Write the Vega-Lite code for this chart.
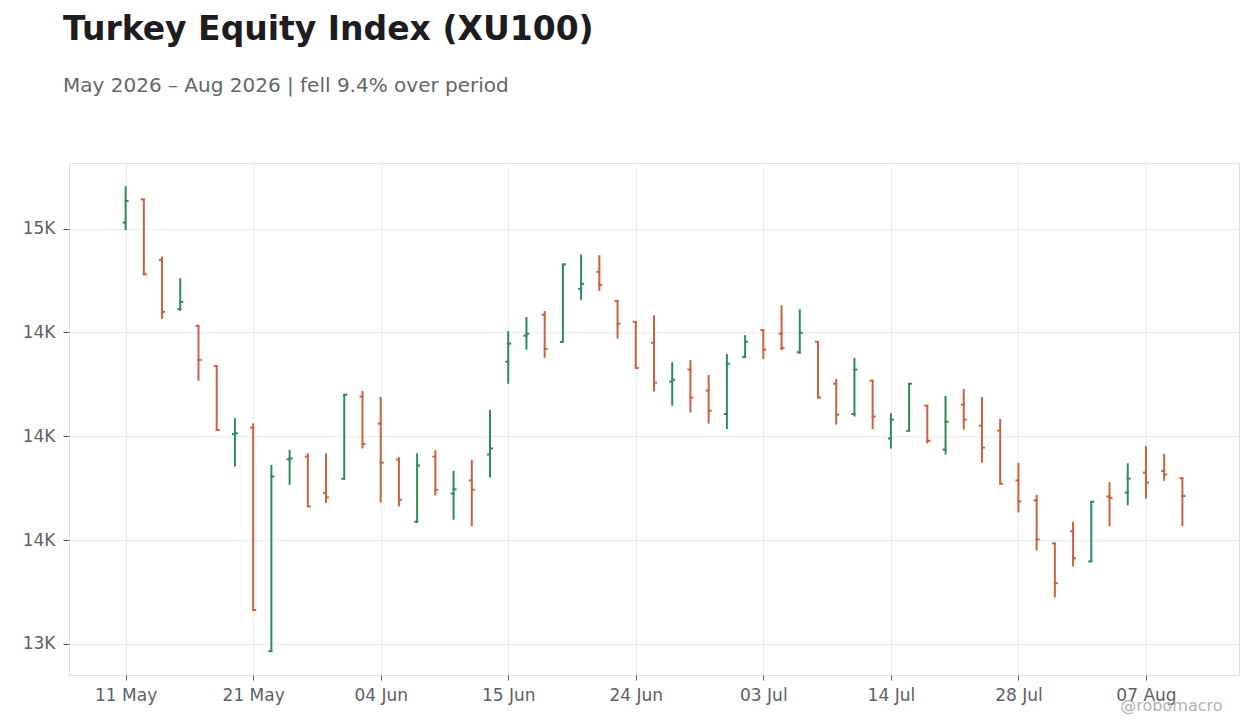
{
  "$schema": "https://vega.github.io/schema/vega-lite/v6.json",
  "autosize": {"type": "none"},
  "width": 1170,
  "height": 512,
  "padding": {"left": 69, "top": 163, "right": 21, "bottom": 53},
  "background": "white",
  "title": {
    "text": "Turkey Equity Index (XU100)",
    "subtitle": "May 2026 – Aug 2026 | fell 9.4% over period",
    "anchor": "start",
    "frame": "group",
    "dx": -6,
    "offset": 67,
    "fontSize": 33,
    "fontWeight": "bold",
    "color": "#1c1c21",
    "subtitleFontSize": 20,
    "subtitleColor": "#62666e",
    "subtitlePadding": 29
  },
  "config": {
    "font": "DejaVu Sans",
    "view": {"stroke": "#dddddd", "strokeWidth": 1},
    "axis": {
      "labelFontSize": 17,
      "labelColor": "#5c606a",
      "tickColor": "#555a63",
      "domain": false,
      "grid": true,
      "gridColor": "#ebebeb",
      "gridWidth": 1
    }
  },
  "data": {
    "values": [
      {"date": "2026-05-11", "open": 15029, "high": 15204, "low": 14992, "close": 15133},
      {"date": "2026-05-12", "open": 15141, "high": 15144, "low": 14778, "close": 14780},
      {"date": "2026-05-13", "open": 14849, "high": 14865, "low": 14566, "close": 14599},
      {"date": "2026-05-14", "open": 14612, "high": 14761, "low": 14604, "close": 14647},
      {"date": "2026-05-15", "open": 14532, "high": 14535, "low": 14268, "close": 14367},
      {"date": "2026-05-18", "open": 14338, "high": 14341, "low": 14027, "close": 14030},
      {"date": "2026-05-20", "open": 14010, "high": 14087, "low": 13854, "close": 14014},
      {"date": "2026-05-21", "open": 14042, "high": 14062, "low": 13160, "close": 13163},
      {"date": "2026-05-22", "open": 12965, "high": 13862, "low": 12962, "close": 13806},
      {"date": "2026-05-25", "open": 13889, "high": 13934, "low": 13766, "close": 13893},
      {"date": "2026-05-26", "open": 13902, "high": 13918, "low": 13659, "close": 13662},
      {"date": "2026-06-01", "open": 13726, "high": 13918, "low": 13678, "close": 13705},
      {"date": "2026-06-02", "open": 13795, "high": 14202, "low": 13793, "close": 14200},
      {"date": "2026-06-03", "open": 14191, "high": 14218, "low": 13941, "close": 13963},
      {"date": "2026-06-04", "open": 14061, "high": 14189, "low": 13681, "close": 13873},
      {"date": "2026-06-05", "open": 13888, "high": 13899, "low": 13662, "close": 13694},
      {"date": "2026-06-08", "open": 13588, "high": 13918, "low": 13582, "close": 13859},
      {"date": "2026-06-09", "open": 13902, "high": 13933, "low": 13715, "close": 13742},
      {"date": "2026-06-10", "open": 13724, "high": 13833, "low": 13598, "close": 13744},
      {"date": "2026-06-11", "open": 13787, "high": 13886, "low": 13566, "close": 13742},
      {"date": "2026-06-12", "open": 13912, "high": 14127, "low": 13801, "close": 13941},
      {"date": "2026-06-15", "open": 14359, "high": 14506, "low": 14253, "close": 14446},
      {"date": "2026-06-16", "open": 14484, "high": 14574, "low": 14417, "close": 14494},
      {"date": "2026-06-17", "open": 14585, "high": 14603, "low": 14378, "close": 14421},
      {"date": "2026-06-18", "open": 14454, "high": 14830, "low": 14452, "close": 14828},
      {"date": "2026-06-19", "open": 14710, "high": 14875, "low": 14657, "close": 14734},
      {"date": "2026-06-22", "open": 14792, "high": 14872, "low": 14700, "close": 14728},
      {"date": "2026-06-23", "open": 14652, "high": 14654, "low": 14470, "close": 14542},
      {"date": "2026-06-24", "open": 14551, "high": 14553, "low": 14327, "close": 14329},
      {"date": "2026-06-25", "open": 14450, "high": 14583, "low": 14215, "close": 14258},
      {"date": "2026-06-26", "open": 14263, "high": 14357, "low": 14147, "close": 14272},
      {"date": "2026-06-29", "open": 14321, "high": 14367, "low": 14114, "close": 14186},
      {"date": "2026-06-30", "open": 14220, "high": 14295, "low": 14061, "close": 14123},
      {"date": "2026-07-01", "open": 14107, "high": 14396, "low": 14034, "close": 14349},
      {"date": "2026-07-02", "open": 14381, "high": 14487, "low": 14378, "close": 14455},
      {"date": "2026-07-03", "open": 14511, "high": 14514, "low": 14372, "close": 14417},
      {"date": "2026-07-06", "open": 14494, "high": 14631, "low": 14415, "close": 14425},
      {"date": "2026-07-07", "open": 14405, "high": 14612, "low": 14397, "close": 14498},
      {"date": "2026-07-08", "open": 14455, "high": 14457, "low": 14181, "close": 14187},
      {"date": "2026-07-09", "open": 14253, "high": 14276, "low": 14056, "close": 14104},
      {"date": "2026-07-10", "open": 14107, "high": 14377, "low": 14095, "close": 14321},
      {"date": "2026-07-13", "open": 14268, "high": 14269, "low": 14034, "close": 14095},
      {"date": "2026-07-14", "open": 13989, "high": 14111, "low": 13941, "close": 14080},
      {"date": "2026-07-16", "open": 14026, "high": 14255, "low": 14022, "close": 14253},
      {"date": "2026-07-17", "open": 14147, "high": 14151, "low": 13965, "close": 13978},
      {"date": "2026-07-20", "open": 13936, "high": 14194, "low": 13912, "close": 14070},
      {"date": "2026-07-22", "open": 14152, "high": 14228, "low": 14032, "close": 14080},
      {"date": "2026-07-24", "open": 14051, "high": 14189, "low": 13873, "close": 13945},
      {"date": "2026-07-27", "open": 14027, "high": 14083, "low": 13768, "close": 13771},
      {"date": "2026-07-28", "open": 13787, "high": 13872, "low": 13633, "close": 13686},
      {"date": "2026-07-29", "open": 13691, "high": 13718, "low": 13450, "close": 13503},
      {"date": "2026-07-30", "open": 13484, "high": 13486, "low": 13224, "close": 13292},
      {"date": "2026-07-31", "open": 13542, "high": 13588, "low": 13373, "close": 13412},
      {"date": "2026-08-03", "open": 13397, "high": 13686, "low": 13394, "close": 13684},
      {"date": "2026-08-04", "open": 13710, "high": 13780, "low": 13566, "close": 13703},
      {"date": "2026-08-06", "open": 13729, "high": 13870, "low": 13667, "close": 13796},
      {"date": "2026-08-07", "open": 13825, "high": 13953, "low": 13699, "close": 13777},
      {"date": "2026-08-10", "open": 13833, "high": 13915, "low": 13785, "close": 13816},
      {"date": "2026-08-11", "open": 13798, "high": 13800, "low": 13567, "close": 13712}
    ]
  },
  "transform": [
    {"window": [{"op": "row_number", "as": "session"}], "sort": [{"field": "date"}]}
  ],
  "encoding": {
    "x": {
      "field": "session",
      "type": "quantitative",
      "scale": {"domain": [-2.107, 62.107], "nice": false, "zero": false},
      "axis": {
        "values": [1, 8, 15, 22, 29, 36, 43, 50, 57],
        "labelExpr": "['11 May', '21 May', '04 Jun', '15 Jun', '24 Jun', '03 Jul', '14 Jul', '28 Jul', '07 Aug'][(datum.value - 1) / 7]",
        "labelAngle": 0,
        "labelFlush": false,
        "tickSize": 5,
        "labelPadding": 7,
        "title": "@robomacro",
        "titleFontSize": 16,
        "titleFontWeight": "normal",
        "titleColor": "#b2b2ba",
        "titleAnchor": "end",
        "titleAlign": "right",
        "titleBaseline": "alphabetic",
        "titleX": 1153,
        "titleY": 35
      }
    },
    "color": {
      "condition": {"test": "datum.close >= datum.open", "value": "#2e8b57"},
      "value": "#cc6040"
    }
  },
  "layer": [
    {
      "mark": {"type": "rule", "strokeWidth": 2},
      "encoding": {
        "y": {
          "field": "low",
          "type": "quantitative",
          "scale": {"domain": [12850, 15316], "nice": false, "zero": false},
          "axis": {
            "title": null,
            "values": [13000, 13500, 14000, 14500, 15000],
            "labelExpr": "(datum.value % 1000 == 500 && floor(datum.value / 1000) % 2 == 0 ? floor(datum.value / 1000) : round(datum.value / 1000)) + 'K'",
            "tickSize": 6,
            "labelPadding": 8
          }
        },
        "y2": {"field": "high"}
      }
    },
    {
      "mark": {"type": "rule", "strokeWidth": 2, "xOffset": -3, "x2Offset": 1},
      "encoding": {
        "x2": {"field": "session"},
        "y": {"field": "open", "type": "quantitative"}
      }
    },
    {
      "mark": {"type": "rule", "strokeWidth": 2, "xOffset": -1, "x2Offset": 3},
      "encoding": {
        "x2": {"field": "session"},
        "y": {"field": "close", "type": "quantitative"}
      }
    }
  ]
}
